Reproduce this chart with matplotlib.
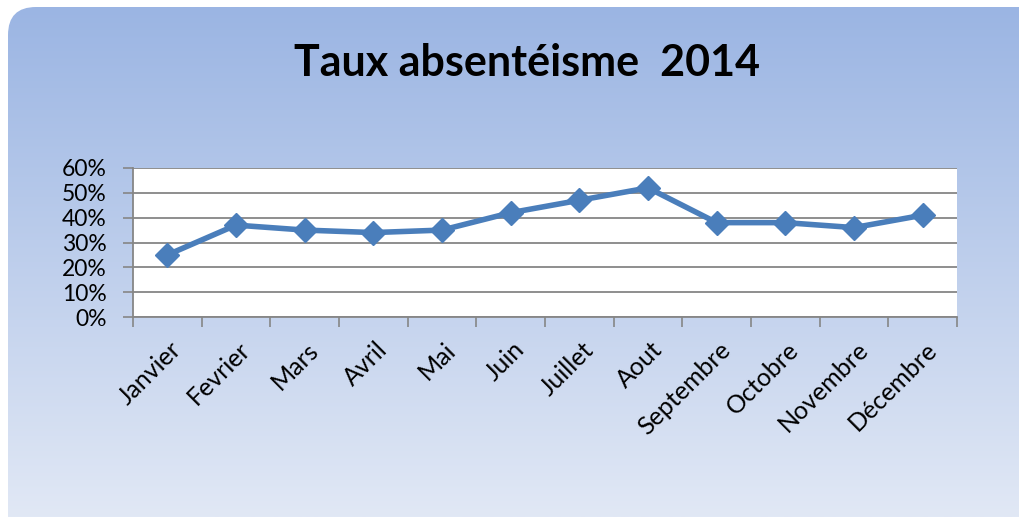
"""Taux absentéisme 2014 - line chart on a gradient card."""

import matplotlib as mpl

mpl.use("Agg")
import matplotlib.pyplot as plt
import matplotlib.transforms as mtransforms
import numpy as np
from matplotlib.colors import LinearSegmentedColormap
from matplotlib.patches import FancyBboxPatch
from matplotlib.ticker import FixedLocator, PercentFormatter

MONTHS = ["Janvier", "Fevrier", "Mars", "Avril", "Mai", "Juin", "Juillet",
          "Aout", "Septembre", "Octobre", "Novembre", "Décembre"]
RATES = [0.25, 0.37, 0.35, 0.34, 0.35, 0.42, 0.47, 0.52, 0.38, 0.38, 0.36, 0.41]
Y_TICKS = [0.0, 0.1, 0.2, 0.3, 0.4, 0.5, 0.6]

LINE = "#4a7ebb"
GRID = "#868686"
TOP = "#9bb5e3"
BOTTOM = "#e1e8f5"

plt.rcParams["font.family"] = ["Lato", "DejaVu Sans"]

W, H = 1020, 517
fig = plt.figure(figsize=(W / 100, H / 100), dpi=100)
fig.patch.set_facecolor("white")

# background card with vertical gradient
bg = fig.add_axes([0, 0, 1, 1])
bg.set_xlim(0, W)
bg.set_ylim(0, H)
bg.axis("off")
card = FancyBboxPatch((8, -40), W + 20, H + 40 - 7,
                      boxstyle="round,pad=0,rounding_size=28",
                      facecolor="none", edgecolor="none")
bg.add_patch(card)
cmap = LinearSegmentedColormap.from_list("card", [BOTTOM, TOP])
grad = np.linspace(0, 1, 256).reshape(-1, 1)
img = bg.imshow(grad, cmap=cmap, aspect="auto", origin="lower",
                extent=(0, W, 0, H - 7))
img.set_clip_path(card)

fig.text(527 / W, 1 - 63 / H, "Taux absentéisme  2014", ha="center",
         va="center", fontsize=31, fontweight="bold", color="black")

ax = fig.add_axes([133 / W, 200 / H, 824 / W, 149 / H])
ax.set_facecolor("white")
x = np.arange(len(MONTHS))
ax.plot(x, RATES, color=LINE, linewidth=4, marker="D", markersize=12.5,
        markerfacecolor=LINE, markeredgecolor=LINE, zorder=3)

ax.set_xlim(-0.5, len(MONTHS) - 0.5)
ax.set_ylim(0, 0.6)
ax.yaxis.set_major_locator(FixedLocator(Y_TICKS))
ax.yaxis.set_major_formatter(PercentFormatter(1.0, decimals=0))
ax.grid(axis="y", color=GRID, linewidth=1.3, zorder=1)
ax.set_axisbelow(True)

# category boundary ticks, labels at centres
ax.set_xticks(np.arange(len(MONTHS) + 1) - 0.5)
ax.set_xticklabels([])
ax.set_xticks(x, minor=True)
ax.set_xticklabels(MONTHS, minor=True, rotation=45, ha="right",
                   rotation_mode="anchor", fontsize=18)
ax.tick_params(axis="x", which="minor", length=0, pad=15)
ax.tick_params(axis="x", which="major", length=7, width=1.2, color=GRID,
               direction="out")
ax.tick_params(axis="y", length=7, width=1.2, color=GRID, labelsize=16.5,
               pad=12)
offset = mtransforms.ScaledTranslation(2 / 100, 0, fig.dpi_scale_trans)
for lbl in ax.get_xticklabels(minor=True):
    lbl.set_transform(lbl.get_transform() + offset)

for name, spine in ax.spines.items():
    if name in ("left", "bottom"):
        spine.set_color(GRID)
        spine.set_linewidth(1.3)
    else:
        spine.set_visible(False)

fig.savefig("out.png", dpi=100)
